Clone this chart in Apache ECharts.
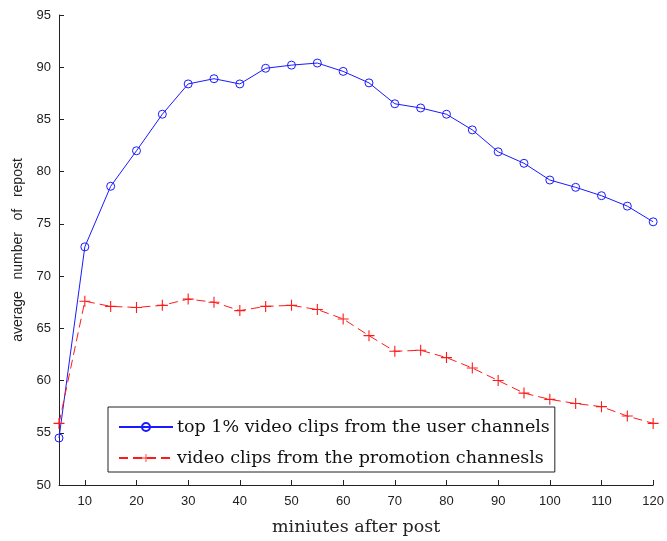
<!DOCTYPE html>
<html>
<head>
<meta charset="utf-8">
<script src="https://cdn.jsdelivr.net/npm/echarts@6/dist/echarts.min.js"></script>
<style>html,body{margin:0;padding:0;background:#fff}#c{width:667px;height:541px}</style>
</head>
<body>
<div id="c"></div>
<script>
var minutes = [5,10,15,20,25,30,35,40,45,50,55,60,65,70,75,80,85,90,95,100,105,110,115,120];
var userChannels = [54.5,72.8,78.6,82.0,85.5,88.4,88.9,88.4,89.9,90.2,90.4,89.6,88.5,86.5,86.1,85.5,84.0,81.9,80.8,79.2,78.5,77.7,76.7,75.2];
var promoChannels = [55.9,67.6,67.1,67.0,67.2,67.8,67.5,66.7,67.1,67.2,66.8,65.9,64.3,62.8,62.9,62.2,61.2,60.0,58.8,58.2,57.8,57.5,56.6,55.9];
var xTicks = [10,20,30,40,50,60,70,80,90,100,110,120];
var seriesNames = ['top 1% video clips from the user channels','video clips from the promotion channesls'];

var chart = echarts.init(document.getElementById('c'), null, {renderer:'canvas'});
var plus = 'path://M0,4.5H10V5.5H0Z M4.5,0H5.5V10H4.5Z';
chart.setOption({
  animation:false,
  backgroundColor:'#fff',
  grid:{left:59,right:11,top:15,bottom:56,containLabel:false},
  xAxis:{
    type:'value',min:5,max:120,
    name:'miniutes after post',nameLocation:'middle',nameGap:33,
    nameTextStyle:{fontFamily:'DejaVu Serif',fontSize:17.5,color:'#222'},
    axisLine:{show:true,onZero:false,lineStyle:{color:'#222',width:1}},
    axisTick:{show:true,inside:true,length:5,customValues:xTicks,lineStyle:{color:'#222'}},
    axisLabel:{customValues:xTicks,fontFamily:'Liberation Sans',fontSize:13,color:'#222',margin:10},
    splitLine:{show:false}
  },
  yAxis:{
    type:'value',min:50,max:95,interval:5,
    name:'average   number   of   repost',nameLocation:'middle',nameGap:28,
    nameTextStyle:{fontFamily:'Liberation Sans',fontSize:14,color:'#222'},
    axisLine:{show:true,lineStyle:{color:'#222',width:1}},
    axisTick:{show:true,inside:true,length:5,lineStyle:{color:'#222'}},
    axisLabel:{fontFamily:'Liberation Sans',fontSize:13,color:'#222',margin:8},
    splitLine:{show:false}
  },
  legend:{
    left:108,top:407,orient:'vertical',
    borderColor:'#222',borderWidth:1,backgroundColor:'#fff',
    padding:[9,5,3,10],itemGap:9,itemWidth:54,itemHeight:10,
    textStyle:{fontFamily:'DejaVu Serif',fontSize:17.5,color:'#111',lineHeight:22,padding:[0,0,0,-1]},
    data:seriesNames
  },
  series:[
    {name:seriesNames[0],type:'line',data:minutes.map(function(m,i){return [m,userChannels[i]];}),
     symbol:'circle',symbolSize:8,showAllSymbol:true,
     lineStyle:{color:'#1a1aff',width:1},itemStyle:{color:'rgba(255,255,255,0)',borderColor:'#1a1aff',borderWidth:1}},
    {name:seriesNames[1],type:'line',data:minutes.map(function(m,i){return [m,promoChannels[i]];}),
     symbol:plus,symbolSize:11,showAllSymbol:true,
     lineStyle:{color:'#ff1a1a',width:1,type:[9,5]},itemStyle:{color:'#ff1a1a'}}
  ]
});
</script>
</body>
</html>
